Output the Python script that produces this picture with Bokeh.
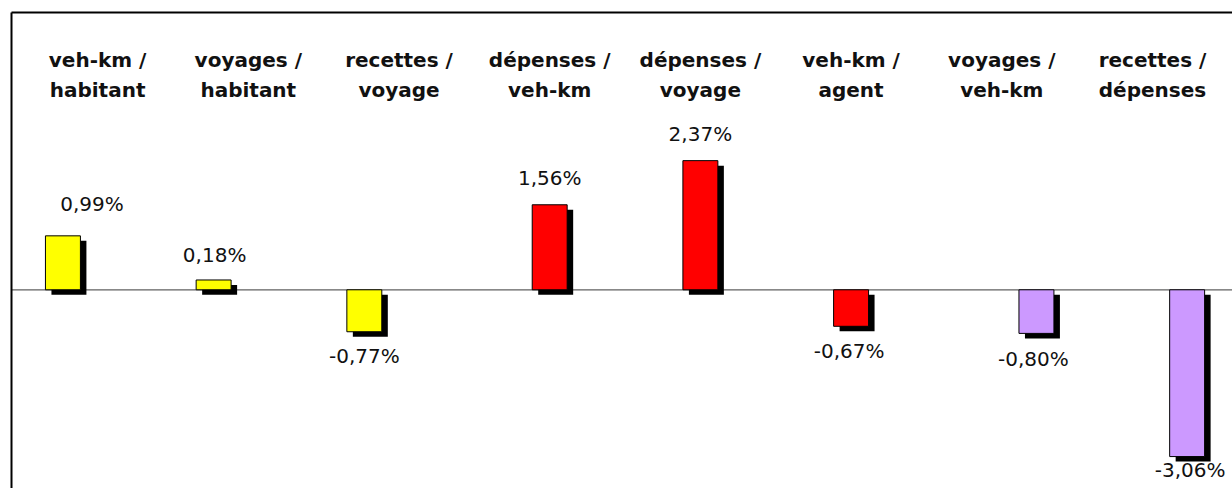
from bokeh.plotting import figure
from bokeh.models import Range1d, Span, FixedTicker, ColumnDataSource
from bokeh.core.properties import value
from bokeh.embed import file_html
from bokeh.resources import INLINE

# ---- data ----
categories = [
    "veh-km /\nhabitant", "voyages /\nhabitant", "recettes /\nvoyage",
    "dépenses /\nveh-km", "dépenses /\nvoyage", "veh-km /\nagent",
    "voyages /\nveh-km", "recettes /\ndépenses",
]
values = [0.99, 0.18, -0.77, 1.56, 2.37, -0.67, -0.80, -3.06]
groups = [0, 0, 0, 1, 1, 1, 2, 2]
group_colors = ["#FFFF00", "#FF0000", "#CC99FF"]

# ---- layout / style ----
W, H = 1232, 488
ML, MT = 11, 12
GROUP_GAP = 0.23
BAR_W = 0.232
X0, X1 = -0.5713, 7.531
Y0, Y1 = -3.646, 5.088
FRAME_W, FRAME_H = W - ML, H - MT
SH_DX = 6 / (FRAME_W / (X1 - X0))
SH_DY = 5 / (FRAME_H / (Y1 - Y0))
lab_dx = [29, 1, 0, 0, 0, -2, -3, 3]
lab_dy = [-32, -25, 24, -27, -27, 25, 26, 13]

n = len(values)
label_x = list(range(n))
bar_x = [i + (g - 1) * GROUP_GAP for i, g in zip(label_x, groups)]
colors = [group_colors[g] for g in groups]
texts = [f"{v:.2f}".replace(".", ",") + "%" for v in values]
line1 = [c.split("\n")[0] for c in categories]
line2 = [c.split("\n")[1] for c in categories]

src = ColumnDataSource(dict(x=bar_x, top=values, color=colors, text=texts,
                            dx=lab_dx, dy=lab_dy))
lsrc = ColumnDataSource(dict(x=label_x, y=[Y1] * n, l1=line1, l2=line2))

p = figure(width=W, height=H, output_backend="svg", toolbar_location=None,
           x_range=Range1d(X0, X1), y_range=Range1d(Y0, Y1),
           x_axis_location="above",
           min_border_left=ML, min_border_top=MT, min_border_right=0, min_border_bottom=0)
p.extra_x_ranges = {"sh": Range1d(X0 - SH_DX, X1 - SH_DX)}
p.extra_y_ranges = {"sh": Range1d(Y0 + SH_DY, Y1 + SH_DY)}

p.background_fill_color = "white"
p.border_fill_color = "white"
p.outline_line_color = None
p.grid.visible = False
for ax in (p.xaxis[0], p.yaxis[0]):
    ax.ticker = FixedTicker(ticks=[])
    ax.axis_line_color = "black"
    ax.axis_line_width = 2
    ax.major_tick_line_color = None
    ax.minor_tick_line_color = None
    ax.major_tick_out = 0
    ax.major_label_standoff = 0
    ax.major_label_text_font_size = "0px"

base = Span(location=0, dimension="width", line_color="#606060", line_width=1.2)
base.level = "underlay"
p.add_layout(base)

# shadows
p.vbar(x="x", top="top", bottom=0, width=BAR_W, source=src, fill_color="black",
       line_color=None, x_range_name="sh", y_range_name="sh")
# bars
p.vbar(x="x", top="top", bottom=0, width=BAR_W, source=src, fill_color="color",
       line_color="black", line_width=1)

# value labels
p.text(x="x", y="top", text="text", source=src, x_offset="dx", y_offset="dy",
       text_align="center", text_baseline="alphabetic",
       text_font=value("DejaVu Sans"), text_font_size="20px", text_color="#111111")

# category labels
for col, off in (("l1", 47), ("l2", 77)):
    p.text(x="x", y="y", text=col, source=lsrc, y_offset=off,
           text_align="center", text_baseline="alphabetic",
           text_font=value("DejaVu Sans"), text_font_style="bold",
           text_font_size="20px", text_color="#111111")

open("out.html", "w").write(file_html(p, INLINE))
